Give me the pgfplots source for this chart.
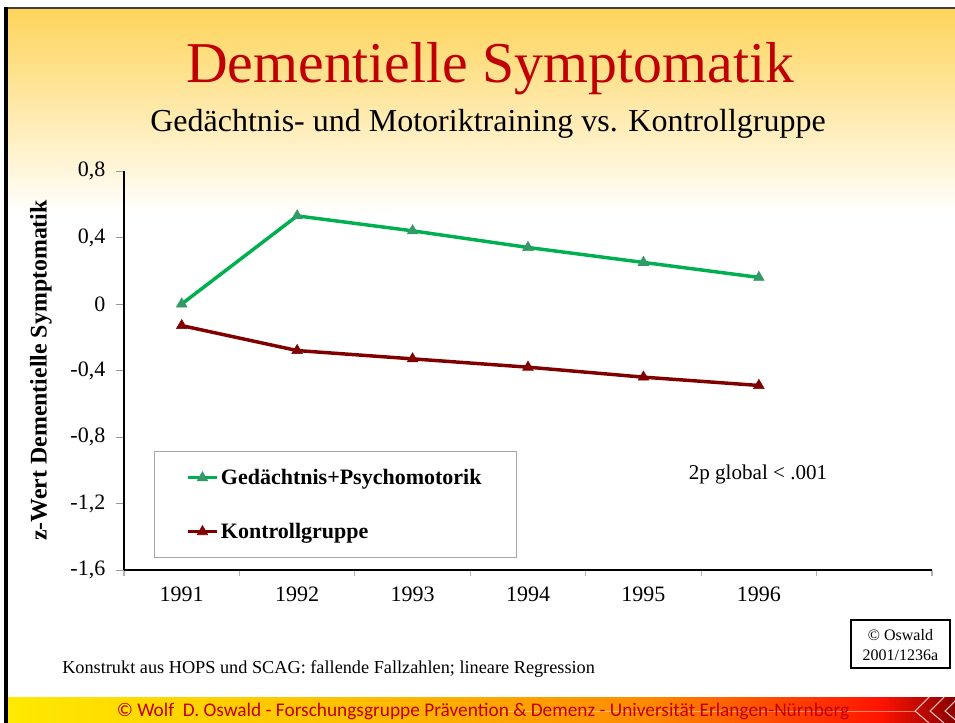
\documentclass[border=0pt]{standalone}
\usepackage{pgfplots}
\pgfplotsset{compat=1.18}
\usepackage{fontspec}
\setmainfont{Liberation Serif}
\newfontfamily\calibri{Carlito}
\definecolor{titlered}{RGB}{192,0,0}
\definecolor{gline}{RGB}{0,176,80}
\definecolor{gmark}{RGB}{51,153,102}
\definecolor{rline}{RGB}{128,0,0}
\definecolor{topyellow}{RGB}{254,212,90}
\definecolor{fya}{RGB}{255,234,0}
\definecolor{fyb}{RGB}{255,192,0}
\definecolor{fyc}{RGB}{255,138,0}
\definecolor{fyd}{RGB}{255,20,0}
\definecolor{fye}{RGB}{135,0,0}
\definecolor{legbord}{RGB}{166,166,166}
\begin{document}
\begin{tikzpicture}
\begin{scope}[x=0.75pt,y=-0.75pt]
\useasboundingbox (0,0) rectangle (955,723);
\fill[white] (0,0) rectangle (955,723);
\shade[top color=topyellow, bottom color=white] (6,8) rectangle (955,215);
% footer band
\shade[left color=fya, right color=fyb] (6,697) rectangle (350.5,723);
\shade[left color=fyb, right color=fyc] (350,697) rectangle (650.5,723);
\shade[left color=fyc, right color=fyd] (650,697) rectangle (880.5,723);
\shade[left color=fyd, right color=fye] (880,697) rectangle (955,723);
\draw[white, opacity=0.45, line width=0.6pt] (500,711) -- (915,711);
\foreach \cx in {915,930,945}{
  \draw[white!75!red, line width=0.8pt] (\cx+14,697) -- (\cx,711) -- (\cx+14,723);
}
\draw[line width=1.6pt, black!75] (6,8) -- (955,8);
\draw[line width=2.6pt, black] (6,7) -- (6,723);
\end{scope}
\begin{axis}[
  at={(93pt,-427.5pt)}, anchor=south west,
  width=606pt, height=299.25pt, scale only axis,
  xmin=0.5, xmax=7.5, ymin=-1.6, ymax=0.8,
  axis x line*=bottom, axis y line*=left,
  axis line style={-, black, line width=0.8pt},
  tick align=outside,
  major tick length=6pt, minor tick length=4.5pt,
  xtick={1,2,3,4,5,6},
  xticklabels={1991,1992,1993,1994,1995,1996},
  major x tick style={draw=none},
  minor xtick={0.5,1.5,2.5,3.5,4.5,5.5,6.5,7.5},
  minor x tick style={draw=black!30, line width=0.8pt},
  ytick={-1.6,-1.2,-0.8,-0.4,0,0.4,0.8},
  yticklabels={{-1,6},{-1,2},{-0,8},{-0,4},{0},{0,4},{0,8}},
  y tick style={black!40, line width=0.7pt},
  ticklabel style={font=\fontsize{16.5}{19}\selectfont},
  xticklabel shift=3.5pt,
  yticklabel shift=4.5pt,
  ylabel={z-Wert Dementielle Symptomatik},
  every axis y label/.style={at={(axis description cs:-0.1027,0.5)}, rotate=90, anchor=center, font=\bfseries\fontsize{17.9}{20}\selectfont},
  legend cell align=left,
  legend style={at={(axis description cs:0.037,0.030)}, anchor=south west,
    draw=legbord, fill=white, line width=0.6pt,
    font=\bfseries\fontsize{16.5}{19}\selectfont,
    inner xsep=24.3pt, inner ysep=11pt, row sep=23.5pt},
  legend image code/.code={\draw[mark repeat=2,mark phase=2] plot coordinates {(0cm,0cm) (0.37cm,0cm) (0.74cm,0cm)};},
  clip=false,
]
\addplot[gline, line width=2.6pt, mark=triangle*, mark size=4.6pt, mark options={fill=gmark, draw=gmark, line width=0.4pt}]
  coordinates {(1,0) (2,0.53) (3,0.44) (4,0.34) (5,0.25) (6,0.16)};
\addlegendentry{Gedächtnis+Psychomotorik}
\addplot[rline, line width=2.6pt, mark=triangle*, mark size=4.6pt, mark options={fill=rline, draw=rline, line width=0.4pt}]
  coordinates {(1,-0.13) (2,-0.28) (3,-0.33) (4,-0.38) (5,-0.44) (6,-0.49)};
\addlegendentry{Kontrollgruppe}
\end{axis}
\begin{scope}[x=0.75pt,y=-0.75pt]
\node[anchor=base, titlered, font=\fontsize{43.3}{50}\selectfont, inner sep=0pt] at (490,83) {Dementielle Symptomatik};
\node[anchor=base, font=\fontsize{24}{28}\selectfont, inner sep=0pt] at (488,132) {Gedächtnis- und Motoriktraining vs. Kontrollgruppe};
\node[anchor=center, font=\fontsize{15.8}{18}\selectfont, inner sep=0pt] at (758,474) {2p global < .001};
\node[anchor=west, font=\fontsize{13.7}{16}\selectfont, inner sep=0pt] at (62,669) {Konstrukt aus HOPS und SCAG: fallende Fallzahlen; lineare Regression};
\draw[line width=0.8pt] (851,620) rectangle (950,668);
\node[align=center, font=\fontsize{12}{15}\selectfont, inner sep=0pt] at (900.5,645) {© Oswald\\2001/1236a};
\node[anchor=center, text=titlered, font=\calibri\fontsize{14.5}{17}\selectfont, inner sep=0pt] at (483,711) {© Wolf\ \ D. Oswald - Forschungsgruppe Prävention \& Demenz - Universität Erlangen-Nürnberg};
\end{scope}
\end{tikzpicture}
\end{document}
